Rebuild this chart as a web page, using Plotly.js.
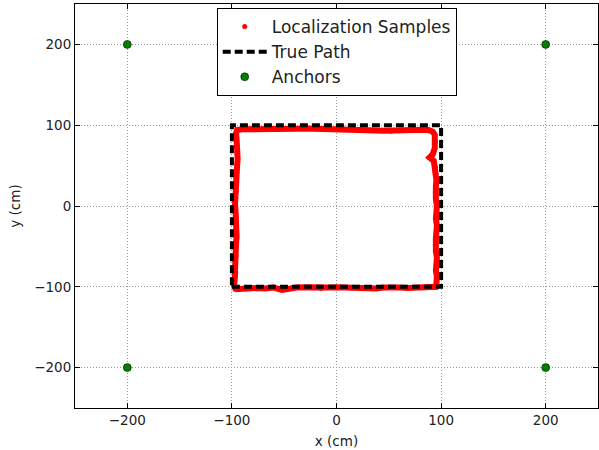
<!DOCTYPE html>
<html>
<head>
<meta charset="utf-8">
<script src="https://cdn.plot.ly/plotly-3.0.1.min.js"></script>
<style>body{margin:0;padding:0;background:#fff}#chart{width:599px;height:450px}</style>
</head>
<body>
<div id="chart"></div>
<script>
// Localization samples traced around the square (cm)
const sampleX = [
  -97,-90,-82,-75,-68,-60,-52,-45,-38,-30,-22,-15,-8,0,8,15,22,30,38,45,52,60,68,75,82,90,95,
  95.5,96,95,95.5,96,95,94.5,95,95.5,96,95,95.5,96,95,94.5,95,95.5,95,94.5,93,89,92,94,94.5,94,92,
  88,82,75,68,60,52,45,38,30,22,15,8,0,-8,-15,-22,-30,-38,-45,-52,-60,-68,-75,-82,-90,-95,
  -96,-95.5,-95,-95,-94.5,-95,-95.5,-96,-96.5,-96,-97,-97,-96.5,-96,-96.5,-96,-95.5,-96,-96.5,-96,-96.5,-97,-97,-97.5,-98
];
const sampleY = [
  -103,-102,-101,-101.5,-102,-101,-104,-102,-101,-100.5,-101,-102,-101,-100.5,-101,-101.5,-100.5,-101,-102,-101,-100.5,-101,-101.5,-101,-100.5,-101,-100,
  -96,-88,-80,-72,-64,-56,-48,-40,-32,-24,-16,-8,0,8,16,24,32,40,48,56,60,64,72,80,88,92,
  94,94.5,94,93.5,93,92.5,93,93.5,94,94.5,95,95,95.5,95.5,95,95.5,96,95.5,95.5,96,95.5,95.5,96,95.5,95,94,
  90,82,74,66,58,50,42,34,26,18,10,2,-6,-14,-22,-30,-38,-46,-54,-62,-70,-78,-86,-94,-100
];
// True path square
const pathX = [-100, 100, 100, -100, -100];
const pathY = [-100, -100, 100, 100, -100];
// Anchor positions
const anchorX = [-200, 200, -200, 200];
const anchorY = [200, 200, -200, -200];
// Tick values
const tickVals = [-200, -100, 0, 100, 200];

const traces = [
  {x: sampleX, y: sampleY, mode: 'lines', line: {color: '#ff0000', width: 6},
   showlegend: false, hoverinfo: 'skip'},
  {x: sampleX, y: sampleY, mode: 'markers', name: 'Localization Samples',
   marker: {color: '#ff0000', size: 5}},
  {x: pathX, y: pathY, mode: 'lines', name: 'True Path',
   line: {color: '#000000', width: 4, dash: '8px,4px'}},
  {x: anchorX, y: anchorY, mode: 'markers', name: 'Anchors',
   marker: {color: '#007f00', size: 8, line: {color: '#000', width: 0.5}}}
];

const axisCommon = {
  showline: true, linecolor: '#000', linewidth: 1, mirror: 'ticks',
  ticks: 'inside', ticklen: 5, tickcolor: '#000', tickwidth: 1,
  showgrid: true, gridcolor: '#999', gridwidth: 1, griddash: '1px,2px',
  zeroline: false, tickvals: tickVals,
  tickfont: {family: 'DejaVu Sans', size: 13.5, color: '#222'}
};

const layout = {
  width: 599, height: 450,
  margin: {l: 75, r: 1, t: 4, b: 42},
  paper_bgcolor: '#fff', plot_bgcolor: '#fff',
  font: {family: 'DejaVu Sans', color: '#222'},
  xaxis: Object.assign({}, axisCommon, {range: [-250, 250],
    title: {text: 'x (cm)', font: {family: 'DejaVu Sans', size: 13.5, color: '#222'}, standoff: 9}}),
  yaxis: Object.assign({}, axisCommon, {range: [-250, 250],
    title: {text: 'y (cm)', font: {family: 'DejaVu Sans', size: 13.5, color: '#222'}, standoff: 10}}),
  legend: {x: 0.271, y: 0.99, xanchor: 'left', yanchor: 'top',
    bgcolor: '#fff', bordercolor: '#000', borderwidth: 1, itemwidth: 44,
    font: {family: 'DejaVu Sans', size: 17, color: '#222'}},
  showlegend: true
};

Plotly.newPlot('chart', traces, layout, {displayModeBar: false, staticPlot: true});
</script>
</body>
</html>
